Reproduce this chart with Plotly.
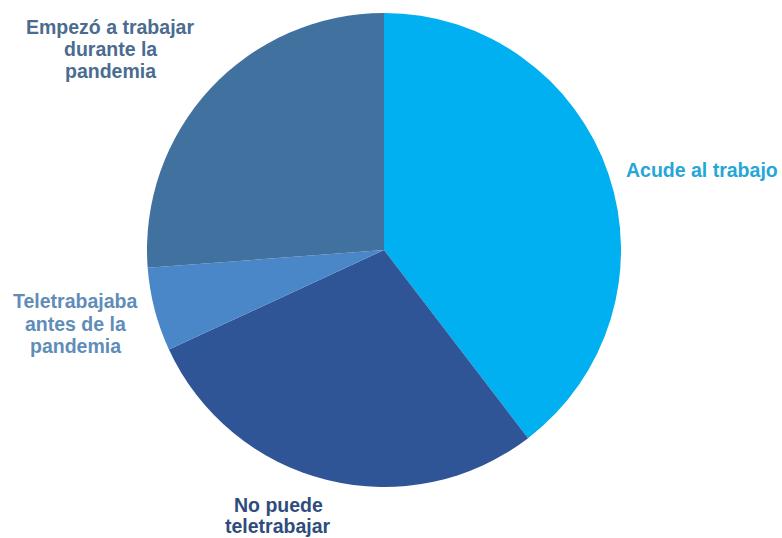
import plotly.graph_objects as go

# Distribución de trabajadores según modalidad
categorias = ["Acude al trabajo", "No puede teletrabajar",
              "Teletrabajaba antes de la pandemia",
              "Empezó a trabajar durante la pandemia"]
valores = [39.6, 28.5, 5.7, 26.2]
colores_sector = ["#00B0F0", "#2F5597", "#4A87C8", "#41719F"]

# Etiquetas exteriores, una lista de renglones por categoría
renglones = [["Acude al trabajo"],
             ["No puede", "teletrabajar"],
             ["Teletrabajaba", "antes de la", "pandemia"],
             ["Empezó a trabajar", "durante la", "pandemia"]]
colores_texto = ["#25A6D6", "#2E4C7C", "#5F8DB8", "#4A6C8F"]

W, H = 782, 538
cx, cy, r = 384, 250, 237
# centro horizontal, y del primer renglón e interlineado (píxeles)
pos_etiquetas = [(702, 169.5, 0), (278, 504.5, 21),
                 (75, 301.5, 22), (110, 26.5, 22)]

fig = go.Figure(go.Pie(
    labels=categorias,
    values=valores,
    marker=dict(colors=colores_sector, line=dict(width=0)),
    sort=False,
    direction="clockwise",
    rotation=0,
    textinfo="none",
    hoverinfo="label+percent",
    domain=dict(x=[(cx - r) / W, (cx + r) / W],
                y=[1 - (cy + r) / H, 1 - (cy - r) / H]),
))

for lineas, color, (x, y0, paso) in zip(renglones, colores_texto, pos_etiquetas):
    for i, linea in enumerate(lineas):
        fig.add_annotation(
            text=linea, x=x / W, y=1 - (y0 + i * paso) / H,
            xref="paper", yref="paper",
            xanchor="center", yanchor="middle", showarrow=False,
            font=dict(family="Liberation Sans, Arial, sans-serif", size=19.5,
                      color=color, weight="bold"),
        )

fig.update_layout(
    width=W, height=H,
    margin=dict(l=0, r=0, t=0, b=0),
    paper_bgcolor="white", plot_bgcolor="white",
    showlegend=False,
)

fig.write_html("out.html")
